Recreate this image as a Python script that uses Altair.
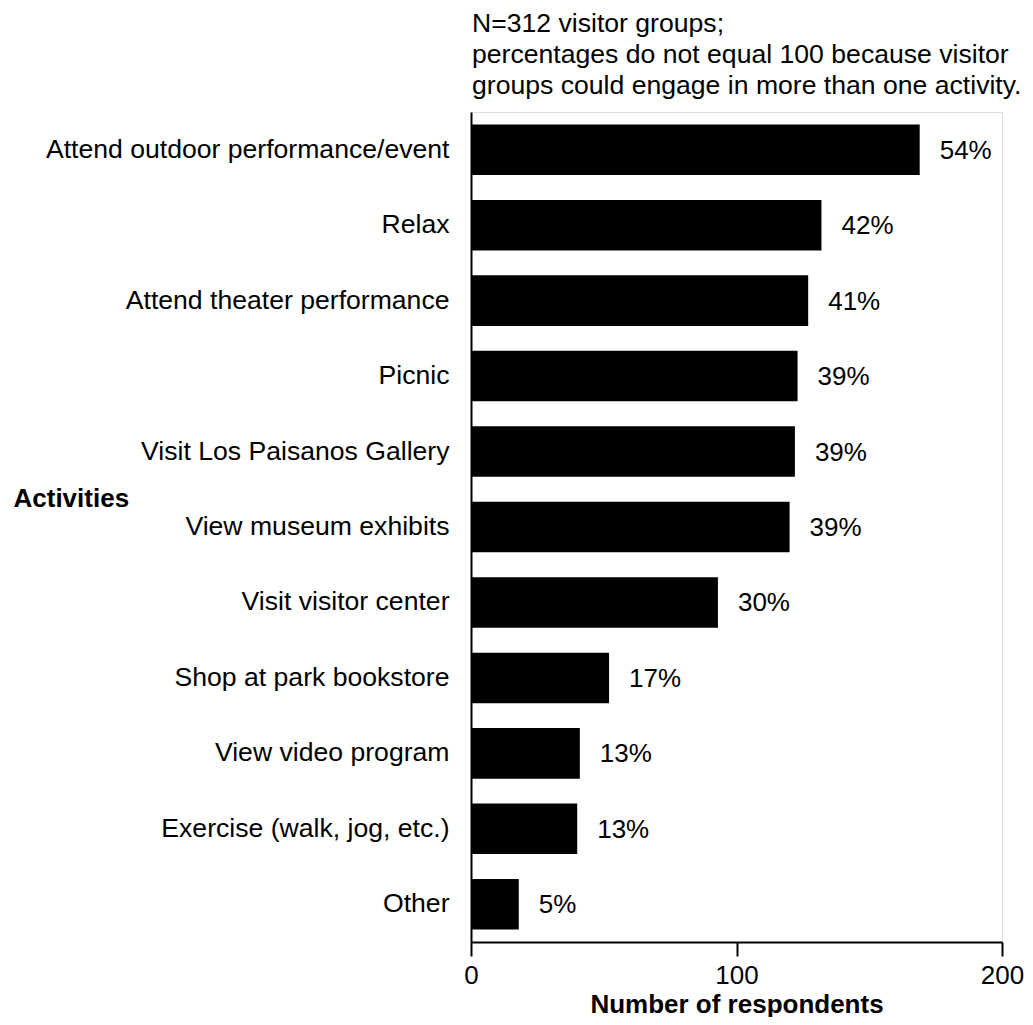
import altair as alt
import pandas as pd

activities = [
    "Attend outdoor performance/event",
    "Relax",
    "Attend theater performance",
    "Picnic",
    "Visit Los Paisanos Gallery",
    "View museum exhibits",
    "Visit visitor center",
    "Shop at park bookstore",
    "View video program",
    "Exercise (walk, jog, etc.)",
    "Other",
]
counts = [169, 132, 127, 123, 122, 120, 93, 52, 41, 40, 18]
pct_labels = ["54%", "42%", "41%", "39%", "39%", "39%", "30%", "17%", "13%", "13%", "5%"]
x_ticks = [0, 100, 200]
note_lines = [
    "N=312 visitor groups;",
    "percentages do not equal 100 because visitor",
    "groups could engage in more than one activity.",
]

df = pd.DataFrame({"activity": activities, "count": counts, "pct": pct_labels})

FONT = "Liberation Sans"
FS = 26
FS_WIDE = 26.6

y_enc = alt.Y(
    "activity:N",
    sort=activities,
    scale=alt.Scale(paddingInner=0.33, paddingOuter=0.165),
    axis=alt.Axis(
        title="Activities",
        titleAngle=0,
        titleAlign="left",
        titleBaseline="middle",
        titleX=-458,
        titleY=386,
        titleFont=FONT,
        titleFontSize=FS,
        titleFontWeight="bold",
        titleColor="black",
        labelFont=FONT,
        labelFontSize=FS_WIDE,
        labelColor="black",
        labelPadding=22,
        labelLimit=600,
        ticks=False,
        domainColor="black",
        domainWidth=2,
        grid=False,
    ),
)

x_enc = alt.X(
    "count:Q",
    scale=alt.Scale(domain=[0, 200], nice=False),
    axis=alt.Axis(
        title="Number of respondents",
        values=x_ticks,
        titleFont=FONT,
        titleFontSize=FS,
        titleFontWeight="bold",
        titleColor="black",
        titlePadding=3,
        labelFont=FONT,
        labelFontSize=FS,
        labelColor="black",
        labelPadding=6,
        tickSize=14,
        tickWidth=2,
        tickColor="black",
        domainColor="black",
        domainWidth=2,
        grid=False,
        labelFlush=False,
    ),
)

bars = alt.Chart(df).mark_bar(color="black").encode(x=x_enc, y=y_enc)

text = alt.Chart(df).mark_text(
    align="left", baseline="middle", dx=20, dy=1, font=FONT, fontSize=FS, color="black"
).encode(
    x=alt.X("count:Q"),
    y=alt.Y("activity:N", sort=activities),
    text="pct:N",
)

chart = (
    alt.layer(bars, text)
    .properties(
        width=531,
        height=830,
        autosize=alt.AutoSizeParams(type="none"),
        padding={"left": 463, "top": 104, "right": 23, "bottom": 75},
        title=alt.TitleParams(
            text=note_lines,
            anchor="start",
            frame="group",
            font=FONT,
            fontSize=FS_WIDE,
            fontWeight="normal",
            color="black",
            lineHeight=31,
            offset=12,
            dx=1,
        ),
    )
    .configure_view(stroke=None)
    .configure(background="white")
)

chart.save("out.html", embed_options={"renderer": "svg", "actions": False})
